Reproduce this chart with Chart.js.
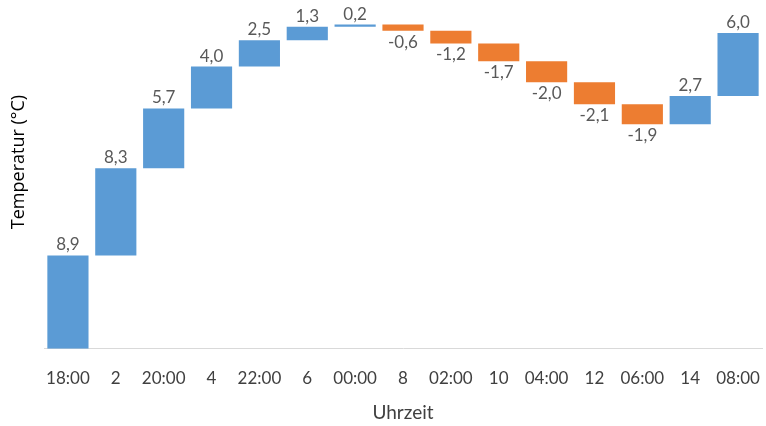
<!DOCTYPE html>
<html>
<head>
<meta charset="utf-8">
<script src="https://cdn.jsdelivr.net/npm/chart.js@4"></script>
<style>
  html, body { margin: 0; padding: 0; background: #fff; }
  #wrap { width: 766px; height: 426px; }
</style>
</head>
<body>
<div id="wrap"><canvas id="grafico"></canvas></div>
<script>
// Kategorien (Uhrzeit) und Temperaturänderungen
var kategorien = ['18:00', '2', '20:00', '4', '22:00', '6', '00:00', '8', '02:00', '10', '04:00', '12', '06:00', '14', '08:00'];
var aenderungen = [8.9, 8.3, 5.7, 4.0, 2.5, 1.3, 0.2, -0.6, -1.2, -1.7, -2.0, -2.1, -1.9, 2.7, 6.0];

var blau = '#5B9BD5';
var orange = '#ED7D31';

// Wasserfall: schwebende Balken [start, ende]
var balken = [];
var summe = 0;
for (var i = 0; i < aenderungen.length; i++) {
    var start = summe;
    summe = summe + aenderungen[i];
    balken.push([start, summe]);
}

var farben = aenderungen.map(function (v) { return v >= 0 ? blau : orange; });

// Werte über / unter den Balken schreiben, dazu der Achsentitel links
var wertBeschriftung = {
    id: 'wertBeschriftung',
    afterDatasetsDraw: function (chart) {
        var ctx = chart.ctx;
        var meta = chart.getDatasetMeta(0);
        ctx.save();
        ctx.font = '17px Lato';
        ctx.fillStyle = '#595959';
        ctx.textAlign = 'center';
        meta.data.forEach(function (bar, i) {
            var v = aenderungen[i];
            var text = v.toFixed(1).replace('.', ',');
            var oben = Math.min(bar.y, bar.base);
            var unten = Math.max(bar.y, bar.base);
            if (v >= 0) {
                ctx.textBaseline = 'bottom';
                ctx.fillText(text, bar.x, oben - 2);
            } else {
                ctx.textBaseline = 'top';
                ctx.fillText(text, bar.x, unten + 3);
            }
        });

        // y-Titel (etwas oberhalb der Mitte, wie im Original)
        ctx.translate(19, 162);
        ctx.rotate(-Math.PI / 2);
        ctx.font = '18px "Open Sans"';
        ctx.fillStyle = '#000';
        ctx.textBaseline = 'middle';
        ctx.fillText('Temperatur (°C)', 0, 0);
        ctx.restore();
    }
};

var ctx = document.getElementById('grafico').getContext('2d');
var grafico = new Chart(ctx, {
    type: 'bar',
    data: {
        labels: kategorien,
        datasets: [{
            data: balken,
            backgroundColor: farben,
            borderWidth: 0,
            categoryPercentage: 1,
            barPercentage: 0.86
        }]
    },
    options: {
        responsive: true,
        maintainAspectRatio: false,
        animation: false,
        layout: { padding: { left: 44, right: 4, top: 13, bottom: 2 } },
        plugins: {
            legend: { display: false },
            tooltip: { enabled: false }
        },
        scales: {
            x: {
                grid: { display: false },
                border: { display: true, color: '#d9d9d9', width: 1 },
                ticks: { color: '#404040', font: { family: 'Lato', size: 17 }, padding: 12, maxRotation: 0, autoSkip: false },
                title: { display: true, text: 'Uhrzeit', color: '#404040', font: { family: 'Lato', size: 19 }, padding: { top: 0, bottom: 0 } },
                afterFit: function (scale) {
                    scale.paddingLeft = 0;
                    scale.paddingRight = 0;
                }
            },
            y: {
                display: false,
                min: 0,
                max: 32
            }
        }
    },
    plugins: [wertBeschriftung]
});
</script>
</body>
</html>
